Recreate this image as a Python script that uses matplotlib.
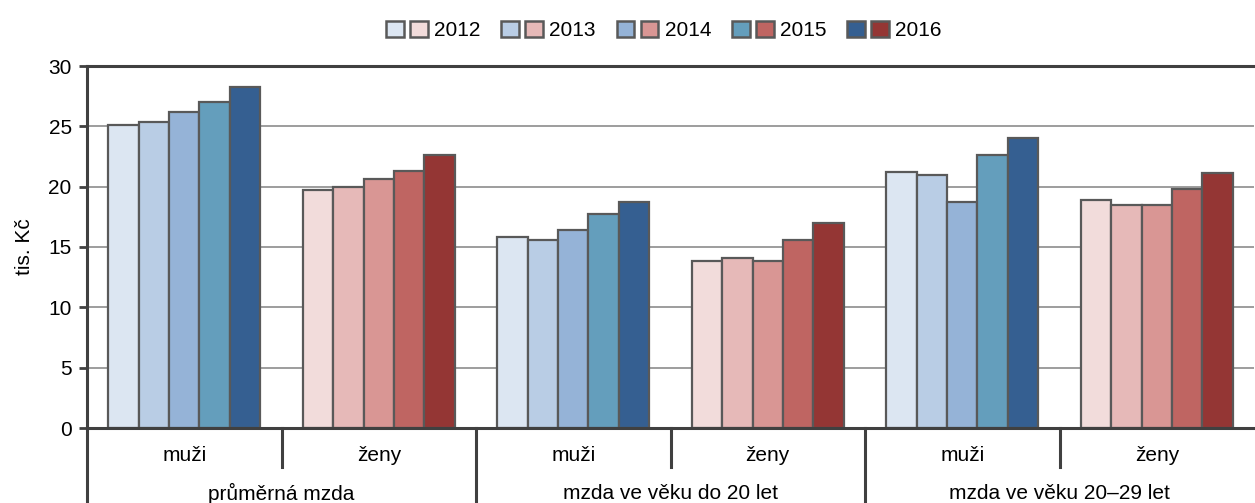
import matplotlib.pyplot as plt
from matplotlib.patches import Patch
from matplotlib.legend_handler import HandlerTuple

plt.rcParams['font.family'] = ['Liberation Sans', 'DejaVu Sans']

years = ['2012', '2013', '2014', '2015', '2016']
groups = ['průměrná mzda', 'mzda ve věku do 20 let', 'mzda ve věku 20–29 let']
sexes = ['muži', 'ženy']

# values in tis. Kč, one list per year, order: (group, sex)
v2012 = [25.1, 19.7, 15.8, 13.8, 21.2, 18.9]
v2013 = [25.4, 20.0, 15.6, 14.1, 21.0, 18.5]
v2014 = [26.2, 20.6, 16.4, 13.8, 18.7, 18.5]
v2015 = [27.0, 21.3, 17.7, 15.6, 22.6, 19.8]
v2016 = [28.3, 22.6, 18.7, 17.0, 24.0, 21.1]
values = [v2012, v2013, v2014, v2015, v2016]

blues = ['#DCE6F2', '#B9CDE5', '#95B3D7', '#649EBC', '#355F91']
reds = ['#F2DCDB', '#E6B9B8', '#D99694', '#BF6562', '#943634']
edge = '#595959'
fs = 15

fig = plt.figure(figsize=(12.55, 5.03), dpi=100)
ax = fig.add_axes([87 / 1255, 1 - 428 / 503, 1167 / 1255, 362 / 503])

n_cat = len(groups) * len(sexes)
bw = 0.156
for i, vals in enumerate(values):
    for c in range(n_cat):
        col = blues[i] if c % 2 == 0 else reds[i]
        x = c + (i - 2) * bw
        ax.bar(x, vals[c], width=bw, color=col, edgecolor=edge, linewidth=1.6, zorder=3)

ax.set_xlim(-0.5, n_cat - 0.5)
ax.set_ylim(0, 30)
ax.set_yticks(range(0, 31, 5))
ax.yaxis.grid(True, color='#8c8c8c', linewidth=1.2, zorder=0)
ax.set_axisbelow(True)
ax.set_xticks([])
for s in ['right', 'bottom']:
    ax.spines[s].set_visible(False)
ax.spines['top'].set_color('#404040')
ax.spines['top'].set_linewidth(2.2)
ax.spines['left'].set_color('#404040')
ax.spines['left'].set_linewidth(2.2)
ax.tick_params(axis='y', length=6, width=2, color='#404040', labelsize=fs, pad=5)
ax.set_ylabel('tis. Kč', fontsize=fs, labelpad=10)

# category axis drawn under the plot
tr = ax.get_xaxis_transform()
ax.plot([-0.5, n_cat - 0.5], [0, 0], transform=tr, color='#404040', lw=2.2, clip_on=False, zorder=5)
ax.plot([-0.5, -0.5], [0, -0.21], transform=tr, color='#404040', lw=2.2, clip_on=False)
for c in range(n_cat):
    ax.text(c, -0.075, sexes[c % 2], transform=tr, ha='center', va='center', fontsize=fs)
    if c > 0:
        low = -0.21 if c % 2 == 0 else -0.108
        ax.plot([c - 0.5, c - 0.5], [0, low], transform=tr, color='#404040', lw=2.2, clip_on=False)
for g, name in enumerate(groups):
    ax.text(2 * g + 0.5, -0.18, name, transform=tr, ha='center', va='center', fontsize=fs)

handles = [(Patch(facecolor=blues[i], edgecolor=edge, linewidth=1.8),
            Patch(facecolor=reds[i], edgecolor=edge, linewidth=1.8)) for i in range(5)]
fig.legend(handles, years, loc='center', bbox_to_anchor=(0.529, 0.94), ncol=5,
           frameon=False, fontsize=fs, handler_map={tuple: HandlerTuple(ndivide=None, pad=0.3)},
           handlelength=2.0, handleheight=0.8, handletextpad=0.3, columnspacing=1.0)

fig.savefig('out.png', dpi=100)
